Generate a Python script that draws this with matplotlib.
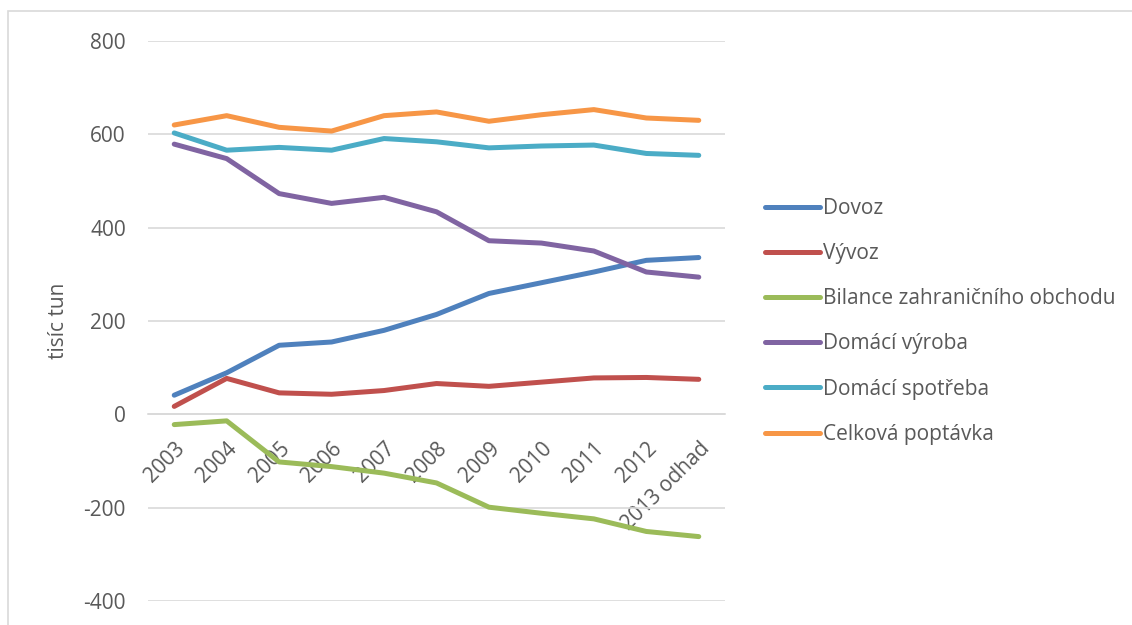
import matplotlib.pyplot as plt
from matplotlib.patches import Rectangle

# Bilance trhu (tisíc tun)
roky = ["2003", "2004", "2005", "2006", "2007", "2008", "2009", "2010", "2011", "2012", "2013 odhad"]
dovoz = [41, 89, 148, 155, 180, 214, 259, 282, 305, 330, 336]
vyvoz = [17, 77, 46, 43, 51, 66, 60, 69, 78, 79, 75]
bilance = [-22, -14, -102, -112, -126, -147, -199, -212, -224, -251, -262]
domaci_vyroba = [579, 548, 473, 452, 465, 434, 372, 367, 350, 305, 294]
domaci_spotreba = [603, 566, 572, 566, 591, 584, 571, 575, 577, 559, 555]
celkova_poptavka = [620, 640, 615, 607, 640, 648, 628, 642, 653, 635, 630]

serie = [
    ("Dovoz", dovoz, "#4F81BD"),
    ("Vývoz", vyvoz, "#C0504D"),
    ("Bilance zahraničního obchodu", bilance, "#9BBB59"),
    ("Domácí výroba", domaci_vyroba, "#8064A2"),
    ("Domácí spotřeba", domaci_spotreba, "#4BACC6"),
    ("Celková poptávka", celkova_poptavka, "#F79646"),
]

plt.rcParams['font.family'] = ['Open Sans', 'DejaVu Sans']
plt.rcParams['axes.unicode_minus'] = False
text_color = "#595959"
grid_color = "#D9D9D9"
fs = 15

fig = plt.figure(figsize=(11.32, 6.25), dpi=100, facecolor='white')
ax = fig.add_axes([148 / 1132, 1 - 601 / 625, (725 - 148) / 1132, (601 - 41) / 625])

# light frame around the chart area
fig.patches.append(Rectangle((8 / 1132, -0.05), 1.1, 1 - 11 / 625 + 0.05,
                             transform=fig.transFigure, fill=False,
                             edgecolor=grid_color, linewidth=1.2))

x = list(range(len(roky)))
for nazev, hodnoty, barva in serie:
    ax.plot(x, hodnoty, color=barva, linewidth=3.6, solid_capstyle='round',
            solid_joinstyle='round', label=nazev)

ax.set_xlim(-0.5, len(roky) - 0.5)
ax.set_ylim(-400, 800)
ax.set_yticks(range(-400, 801, 200))
ax.yaxis.grid(True, color=grid_color, linewidth=1.2)
ax.set_axisbelow(True)

for side in ["top", "right", "left"]:
    ax.spines[side].set_visible(False)
# category axis crosses at zero
ax.spines["bottom"].set_position(("data", 0))
ax.spines["bottom"].set_color(grid_color)
ax.spines["bottom"].set_linewidth(1.2)

ax.set_xticks(x)
ax.set_xticklabels(roky, rotation=45, ha='right', va='top', rotation_mode='anchor')
ax.tick_params(axis='x', length=0, pad=17, labelsize=fs, labelcolor=text_color)
ax.tick_params(axis='y', length=0, pad=16, labelsize=fs, labelcolor=text_color)

ax.set_ylabel("tisíc tun", fontsize=fs, color=text_color, labelpad=10)

leg = ax.legend(loc='upper left', bbox_to_anchor=(765 / 1132, 1 - 198 / 625),
                bbox_transform=fig.transFigure, frameon=False, fontsize=fs,
                handlelength=2.65, handletextpad=0.15, labelspacing=1.16,
                borderpad=0, borderaxespad=0)
for t in leg.get_texts():
    t.set_color(text_color)

fig.savefig("out.png", dpi=100, facecolor='white')
